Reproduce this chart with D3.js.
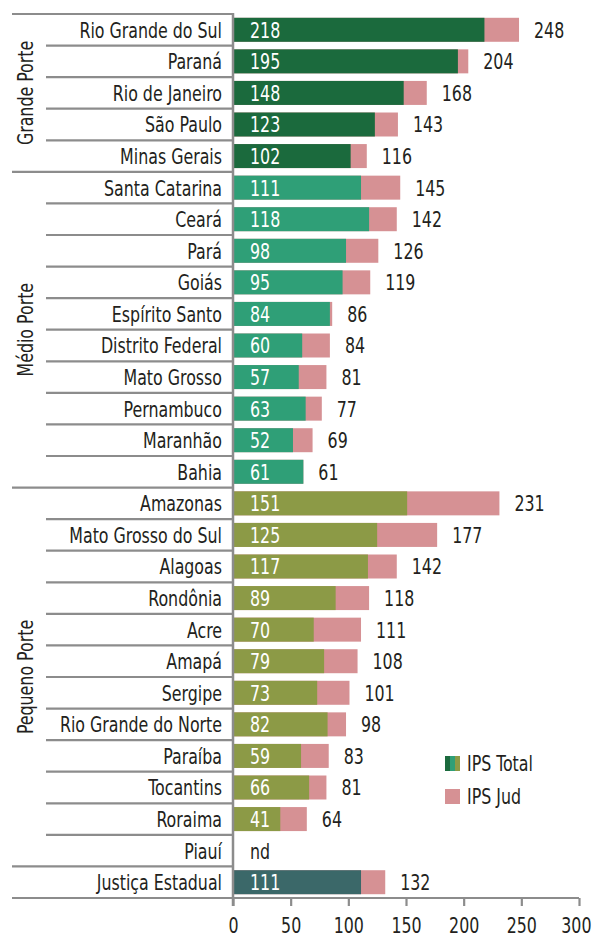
<!DOCTYPE html>
<html>
<head>
<meta charset="utf-8">
<script src="https://cdn.jsdelivr.net/npm/d3@7"></script>
<style>
  body { margin: 0; background: #fff; }
  svg text { font-family: "DejaVu Sans Condensed", "Liberation Sans Narrow", sans-serif; }
</style>
</head>
<body>
<div id="chart"></div>
<script>
// categories (top to bottom) and their group
var states = ["Rio Grande do Sul", "Paraná", "Rio de Janeiro", "São Paulo", "Minas Gerais",
  "Santa Catarina", "Ceará", "Pará", "Goiás", "Espírito Santo", "Distrito Federal", "Mato Grosso",
  "Pernambuco", "Maranhão", "Bahia",
  "Amazonas", "Mato Grosso do Sul", "Alagoas", "Rondônia", "Acre", "Amapá", "Sergipe",
  "Rio Grande do Norte", "Paraíba", "Tocantins", "Roraima", "Piauí",
  "Justiça Estadual"]
var groups = ["Grande", "Grande", "Grande", "Grande", "Grande",
  "Medio", "Medio", "Medio", "Medio", "Medio", "Medio", "Medio", "Medio", "Medio", "Medio",
  "Pequeno", "Pequeno", "Pequeno", "Pequeno", "Pequeno", "Pequeno", "Pequeno", "Pequeno",
  "Pequeno", "Pequeno", "Pequeno", "Pequeno",
  "Justica"]
// IPS Total (inner bar) and IPS Jud (outer bar), null = nd
var ipsTotal = [218, 195, 148, 123, 102,
  111, 118, 98, 95, 84, 60, 57, 63, 52, 61,
  151, 125, 117, 89, 70, 79, 73, 82, 59, 66, 41, null,
  111]
var ipsJud = [248, 204, 168, 143, 116,
  145, 142, 126, 119, 86, 84, 81, 77, 69, 61,
  231, 177, 142, 118, 111, 108, 101, 98, 83, 81, 64, null,
  132]
var groupNames = ["Grande", "Medio", "Pequeno"]
var groupLabels = ["Grande Porte", "Médio Porte", "Pequeno Porte"]
var xTicks = [0, 50, 100, 150, 200, 250, 300]

const width = 593
const height = 940
var grey = "#8c8c8c"
var pink = "#d69194"
var ink = "#231f20"
var fs = 22      // font size
var sx = 0.8     // squeeze the font horizontally (condensed look)
var color = d3.scaleOrdinal()
  .domain(["Grande", "Medio", "Pequeno", "Justica"])
  .range(["#1b6a3d", "#2f9f77", "#8c9a46", "#3b6869"])

var rows = states.map(function (s, i) {
  return { name: s, group: groups[i], total: ipsTotal[i], jud: ipsJud[i] }
})

var svg = d3.select("#chart").append("svg")
  .attr("width", width)
  .attr("height", height)

var x = d3.scaleLinear().domain([0, 300]).range([233, 579])
var y = d3.scaleBand().domain(states).range([14, 898]).paddingInner(0.24).paddingOuter(0.12)
var step = y.step()
var top0 = 14

// place a squeezed text at (px, py)
function label (sel, px, py) {
  return sel.attr("transform", function (d, i) {
    var a = typeof px === "function" ? px(d, i) : px
    var b = typeof py === "function" ? py(d, i) : py
    return "translate(" + a + "," + b + ") scale(" + sx + ",1)"
  })
    .attr("dy", "0.36em")
    .attr("font-size", fs)
}

// separator lines of the category axis
var seps = d3.range(states.length + 1).map(function (i) {
  var major = i === 0 || i === states.length || groups[i] !== groups[i - 1]
  return { y: top0 + i * step, x0: major ? 12 : 46 }
})
svg.append("g").selectAll("line")
  .data(seps)
  .enter().append("line")
  .attr("x1", d => d.x0)
  .attr("x2", x(0))
  .attr("y1", d => d.y)
  .attr("y2", d => d.y)
  .attr("stroke", grey)
  .attr("stroke-width", 2.2)

// bars: IPS Jud behind, IPS Total on top
var bars = svg.append("g")
bars.selectAll("rect.jud")
  .data(rows.filter(d => d.jud != null))
  .enter().append("rect")
  .attr("class", "jud")
  .attr("x", x(0))
  .attr("y", d => y(d.name))
  .attr("width", d => x(d.jud) - x(0))
  .attr("height", y.bandwidth())
  .attr("fill", pink)
bars.selectAll("rect.total")
  .data(rows.filter(d => d.total != null))
  .enter().append("rect")
  .attr("class", "total")
  .attr("x", x(0))
  .attr("y", d => y(d.name))
  .attr("width", d => x(d.total) - x(0))
  .attr("height", y.bandwidth())
  .attr("fill", d => color(d.group))

var mid = d => y(d.name) + y.bandwidth() / 2

// labels
svg.append("g").selectAll("text")
  .data(rows.filter(d => d.total != null))
  .enter().append("text")
  .call(label, x(0) + 17, mid)
  .attr("fill", "#fff")
  .text(d => d.total)

svg.append("g").selectAll("text")
  .data(rows)
  .enter().append("text")
  .call(label, d => d.jud == null ? x(0) + 17 : x(d.jud) + 15, mid)
  .attr("fill", ink)
  .text(d => d.jud == null ? "nd" : d.jud)

svg.append("g").selectAll("text")
  .data(rows)
  .enter().append("text")
  .call(label, 222, mid)
  .attr("text-anchor", "end")
  .attr("fill", ink)
  .text(d => d.name)

// group labels (rotated)
groupNames.forEach(function (g, k) {
  var idx = groups.map((v, i) => v === g ? i : -1).filter(i => i >= 0)
  var cy = top0 + (idx[0] + idx[idx.length - 1] + 1) / 2 * step
  svg.append("text")
    .attr("transform", "translate(25," + cy + ") rotate(-90) scale(" + sx + ",1)")
    .attr("text-anchor", "middle")
    .attr("dy", "0.36em")
    .attr("fill", ink)
    .attr("font-size", fs)
    .text(groupLabels[k])
})

// x axis
var xAxis = svg.append("g")
  .attr("transform", "translate(0,898)")
  .call(d3.axisBottom(x).tickValues(xTicks).tickSize(8).tickPadding(0))
xAxis.select(".domain").remove()
xAxis.selectAll("line").attr("stroke", grey).attr("stroke-width", 2.2)
xAxis.selectAll("text")
  .attr("y", 35).attr("dy", null)
  .attr("transform", "scale(" + sx + ",1)")
  .attr("font-size", fs).attr("fill", ink)
  .style("font-family", "'DejaVu Sans Condensed', 'Liberation Sans Narrow', sans-serif")
// keep the last tick label inside the page
xAxis.selectAll("text").filter(d => d === 300)
  .attr("text-anchor", "end")
  .attr("x", 12 / sx)
svg.append("line")
  .attr("x1", 12).attr("x2", x(300))
  .attr("y1", 898).attr("y2", 898)
  .attr("stroke", grey).attr("stroke-width", 2.2)
svg.append("line")
  .attr("x1", x(0)).attr("x2", x(0))
  .attr("y1", top0 - 1).attr("y2", 906)
  .attr("stroke", grey).attr("stroke-width", 2.5)

// legend
var legend = svg.append("g").attr("transform", "translate(445,756)")
color.range().slice(0, 3).forEach(function (c, i) {
  legend.append("rect")
    .attr("x", i * 5).attr("y", 0)
    .attr("width", 5).attr("height", 15)
    .attr("fill", c)
})
legend.append("text")
  .call(label, 22, 7.5)
  .attr("fill", ink)
  .text("IPS Total")
legend.append("rect")
  .attr("x", 0).attr("y", 33)
  .attr("width", 15).attr("height", 15)
  .attr("fill", pink)
legend.append("text")
  .call(label, 22, 40.5)
  .attr("fill", ink)
  .text("IPS Jud")
</script>
</body>
</html>
